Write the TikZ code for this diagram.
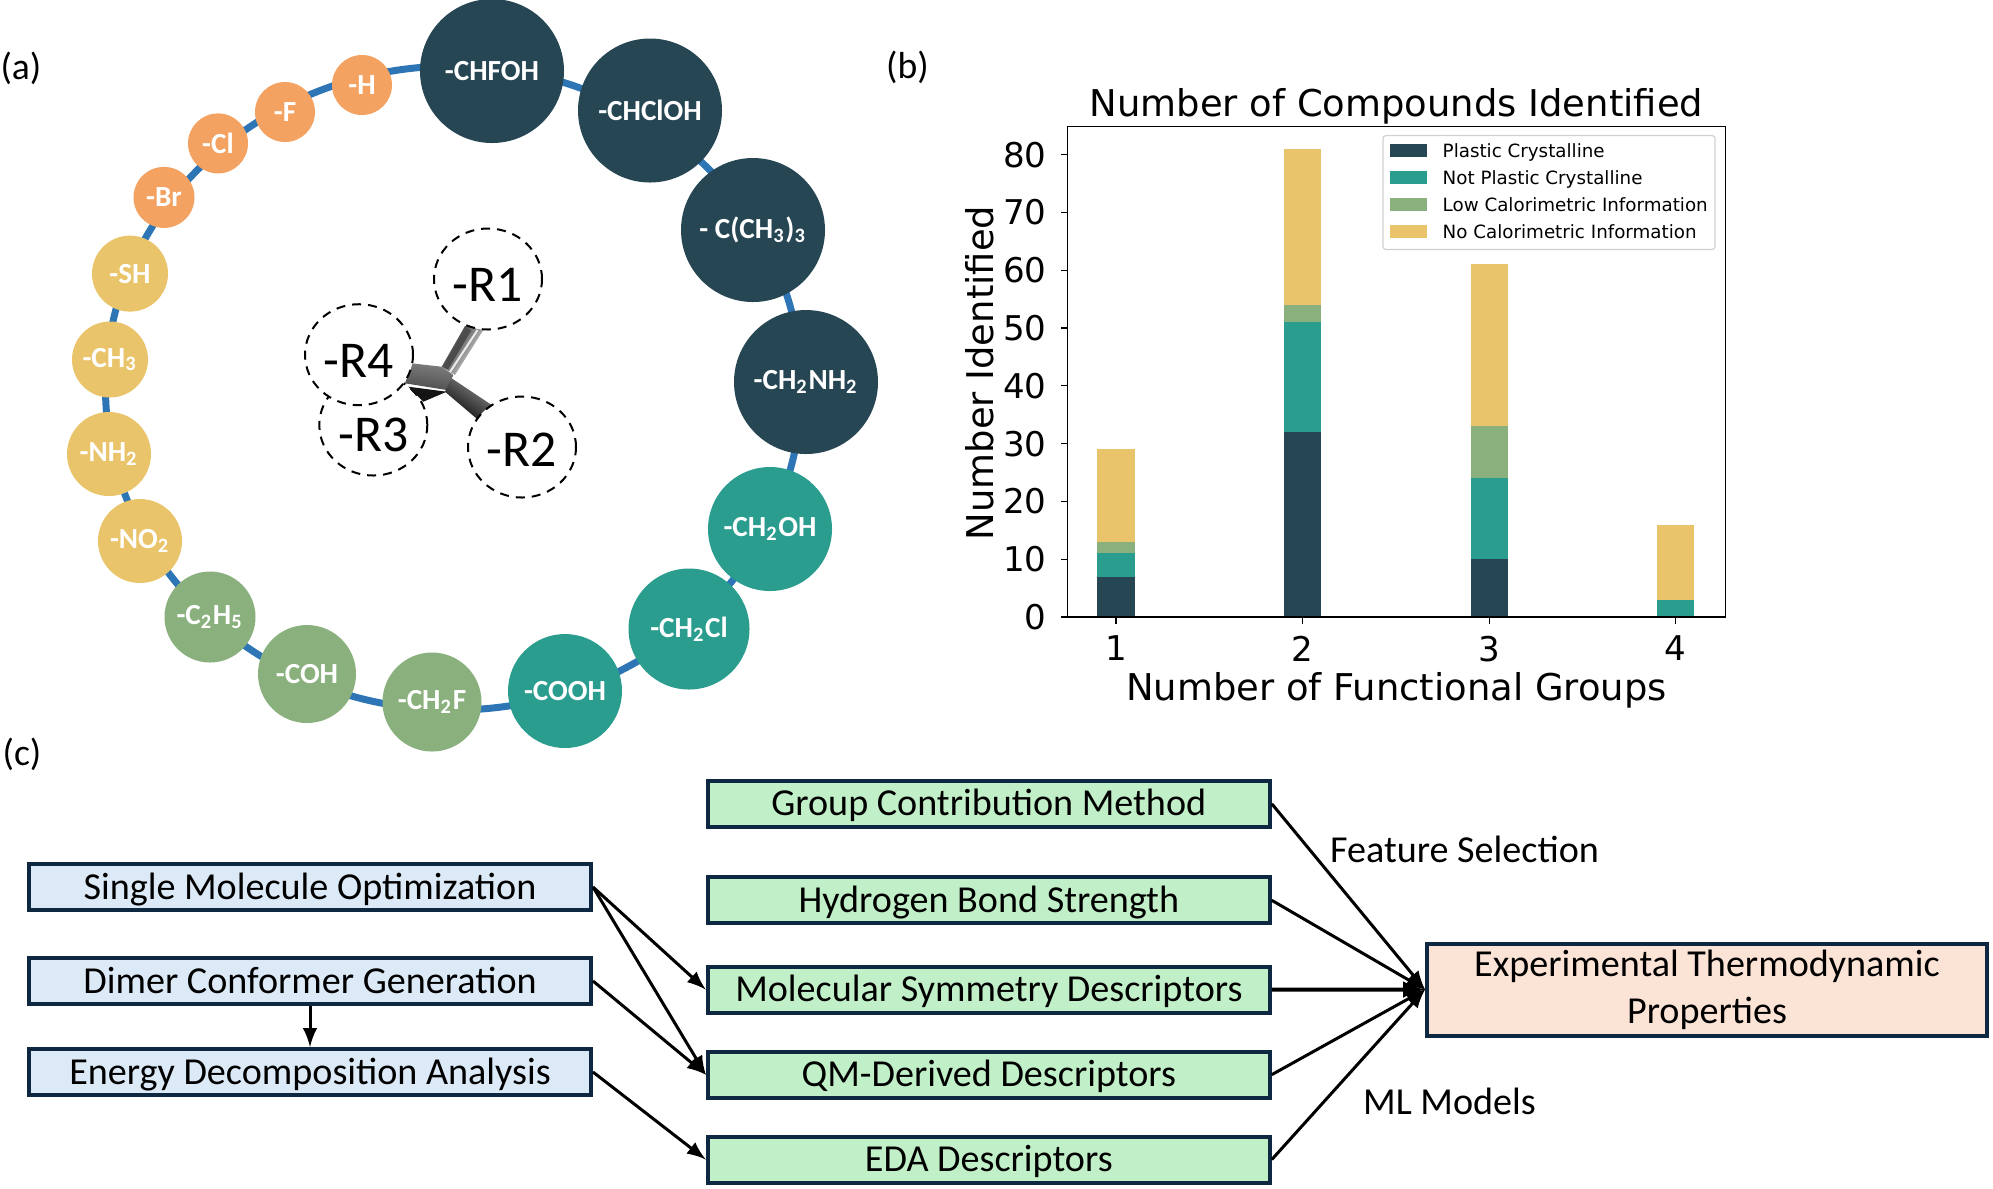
\documentclass[tikz,border=0pt]{standalone}
\usepackage{fontspec}
\setmainfont{Carlito}
\newfontfamily\plotfont{DejaVu Sans}
\usetikzlibrary{positioning,shapes.geometric,arrows}

\definecolor{pcdark}{HTML}{264653}
\definecolor{npcteal}{HTML}{2A9D8F}
\definecolor{lowgreen}{HTML}{8AB17D}
\definecolor{noyellow}{HTML}{E9C46A}
\definecolor{hotorange}{HTML}{F4A261}
\definecolor{ringblue}{HTML}{2E75B6}
\definecolor{boxline}{HTML}{0E2841}
\definecolor{calcblue}{HTML}{DCEAF7}
\definecolor{descgreen}{HTML}{C1F0C8}
\definecolor{targetpink}{HTML}{FBE3D6}

\tikzset{
  group/.style={circle,inner sep=0pt,text=white,font=\bfseries\fontsize{8.3}{10}\selectfont},
  rsite/.style={ellipse,draw,fill=white,line width=0.02cm,dash pattern=on 0.09cm off 0.07cm,minimum width=1.08cm,minimum height=1.01cm,inner sep=0pt,text height=0.45cm,text depth=0cm,font=\fontsize{14.7}{16}\selectfont},
  flowbox/.style={rectangle,draw=boxline,line width=0.04cm,inner sep=0pt,minimum height=0.46cm,minimum width=5.62cm,align=center,text height=0.27cm,text depth=0.03cm,font=\fontsize{10.85}{13.4}\selectfont},
  link/.style={->,>=latex,black,line width=0.03cm},
  panel/.style={font=\fontsize{10.7}{12}\selectfont},
  plottext/.style={font=\plotfont\fontsize{10.5}{13}\selectfont},
  plottick/.style={font=\plotfont\fontsize{9.7}{12}\selectfont},
  legendtext/.style={anchor=west,inner sep=0pt,text height=0.14cm,text depth=0.04cm,font=\plotfont\fontsize{5.2}{6}\selectfont}
}

\begin{document}
\begin{tikzpicture}
\useasboundingbox (0,0) rectangle (19.93,-11.88);

% Panel a: ring of groups
\node[ellipse,draw=ringblue,line width=0.07cm,minimum width=6.96cm,minimum height=6.44cm,inner sep=0pt] (ring) at (4.535,-3.88) {};

\path
(0,0)
+(4.92,-0.71)   node[group,fill=pcdark,minimum size=1.44cm]   (chfoh) {-CHFOH}
+(6.50,-1.105)  node[group,fill=pcdark,minimum size=1.44cm]   (chcloh) {-CHClOH}
+(7.53,-2.30)   node[group,fill=pcdark,minimum size=1.44cm]   (cch3) {- C(CH\textsubscript{3})\textsubscript{3}}
+(8.06,-3.82)   node[group,fill=pcdark,minimum size=1.44cm]   (chnh) {-CH\textsubscript{2}NH\textsubscript{2}}
+(7.70,-5.29)   node[group,fill=npcteal,minimum size=1.24cm]  (choh) {-CH\textsubscript{2}OH}
+(6.89,-6.29)   node[group,fill=npcteal,minimum size=1.21cm]  (chcl) {-CH\textsubscript{2}Cl}
+(5.65,-6.91)   node[group,fill=npcteal,minimum size=1.14cm]  (cooh) {-COOH}
+(4.32,-7.02)   node[group,fill=lowgreen,minimum size=0.99cm] (chf) {-CH\textsubscript{2}F}
+(3.07,-6.74)   node[group,fill=lowgreen,minimum size=0.98cm] (coh) {-COH}
+(2.10,-6.17)   node[group,fill=lowgreen,minimum size=0.91cm] (cth) {-C\textsubscript{2}H\textsubscript{5}}
+(1.40,-5.41)   node[group,fill=noyellow,minimum size=0.84cm] (notwo) {-NO\textsubscript{2}}
+(1.09,-4.54)   node[group,fill=noyellow,minimum size=0.84cm] (nhtwo) {-NH\textsubscript{2}}
+(1.10,-3.595)  node[group,fill=noyellow,minimum size=0.76cm] (chthree) {-CH\textsubscript{3}}
+(1.30,-2.736)  node[group,fill=noyellow,minimum size=0.76cm] (sh) {-SH}
+(1.64,-1.974)  node[group,fill=hotorange,minimum size=0.61cm] (br) {-Br}
+(2.18,-1.434)  node[group,fill=hotorange,minimum size=0.60cm] (cl) {-Cl}
+(2.85,-1.12)   node[group,fill=hotorange,minimum size=0.60cm] (fl) {-F}
+(3.62,-0.85)   node[group,fill=hotorange,minimum size=0.60cm] (hy) {-H}
;

% Molecule in the middle
\node[rsite,text height=0.52cm] (r3) at (3.733,-4.25) {-R3};
\fill[black!92] (4.083,-3.867) -- (4.233,-4.017) -- (4.467,-3.917) -- cycle;
\shade[top color=black!92,middle color=black!60,bottom color=white,shading angle=58] (4.65,-3.26) -- (4.833,-3.30) -- (4.55,-3.75) -- (4.417,-3.667) -- cycle;
\draw[black!70,line width=0.06cm] (4.685,-3.29) -- (4.455,-3.68);
\draw[black!8,line width=0.02cm] (4.775,-3.30) -- (4.50,-3.72);
\shade[top color=black!50,middle color=black!42,bottom color=black!70,shading angle=-8] (4.117,-3.633) -- (4.05,-3.833) -- (4.467,-3.90) -- (4.533,-3.75) -- (4.417,-3.667) -- cycle;
\shade[top color=black!45,bottom color=black!98,shading angle=-34] (4.517,-3.783) -- (4.917,-4.05) -- (4.783,-4.20) -- (4.45,-3.917) -- cycle;
\node[rsite] (r4) at (3.59,-3.547) {-R4};
\node[rsite] (r1) at (4.88,-2.79) {-R1};
\node[rsite,text height=0.393cm] (r2) at (5.22,-4.47) {-R2};

\node[panel] (labela) at (0.21,-0.68) {(a)};
\node[panel] (labelb) at (9.075,-0.675) {(b)};
\node[panel] (labelc) at (0.22,-7.54) {(c)};

% Panel b: stacked bars
\begin{scope}[shift={(9.294,-6.17)},x=1.866cm,y=0.0578cm]
\fill[pcdark]    (0.9,0) rectangle (1.1,7);
\fill[npcteal]   (0.9,7) rectangle (1.1,11);
\fill[lowgreen]  (0.9,11) rectangle (1.1,13);
\fill[noyellow]  (0.9,13) rectangle (1.1,29);
\fill[pcdark]    (1.9,0) rectangle (2.1,32);
\fill[npcteal]   (1.9,32) rectangle (2.1,51);
\fill[lowgreen]  (1.9,51) rectangle (2.1,54);
\fill[noyellow]  (1.9,54) rectangle (2.1,81);
\fill[pcdark]    (2.9,0) rectangle (3.1,10);
\fill[npcteal]   (2.9,10) rectangle (3.1,24);
\fill[lowgreen]  (2.9,24) rectangle (3.1,33);
\fill[noyellow]  (2.9,33) rectangle (3.1,61);
\fill[npcteal]   (3.9,0) rectangle (4.1,3);
\fill[noyellow]  (3.9,3) rectangle (4.1,16);

\draw[line width=0.012cm] (0.741,0) rectangle (4.264,84.8);

\draw[line width=0.012cm] (1,0) -- ++(0,-1.16) node[plottick,below=0cm] (xone) {1};
\draw[line width=0.012cm] (2,0) -- ++(0,-1.16) node[plottick,below=0cm] (xtwo) {2};
\draw[line width=0.012cm] (3,0) -- ++(0,-1.16) node[plottick,below=0cm] (xthree) {3};
\draw[line width=0.012cm] (4,0) -- ++(0,-1.16) node[plottick,below=0cm] (xfour) {4};

\draw[line width=0.012cm] (0.741,0) -- ++(-0.036,0) node[plottick,left=0.02cm] (yzero) {0};
\draw[line width=0.012cm] (0.741,10) -- ++(-0.036,0) node[plottick,left=0.02cm] (yten) {10};
\draw[line width=0.012cm] (0.741,20) -- ++(-0.036,0) node[plottick,left=0.02cm] (ytwenty) {20};
\draw[line width=0.012cm] (0.741,30) -- ++(-0.036,0) node[plottick,left=0.02cm] (ythirty) {30};
\draw[line width=0.012cm] (0.741,40) -- ++(-0.036,0) node[plottick,left=0.02cm] (yforty) {40};
\draw[line width=0.012cm] (0.741,50) -- ++(-0.036,0) node[plottick,left=0.02cm] (yfifty) {50};
\draw[line width=0.012cm] (0.741,60) -- ++(-0.036,0) node[plottick,left=0.02cm] (ysixty) {60};
\draw[line width=0.012cm] (0.741,70) -- ++(-0.036,0) node[plottick,left=0.02cm] (yseventy) {70};
\draw[line width=0.012cm] (0.741,80) -- ++(-0.036,0) node[plottick,left=0.02cm] (yeighty) {80};
\end{scope}

\node[plottext] (plottitle) at (13.965,-1.06) {Number of Compounds Identified};
\node[plottext] (xlabel) at (13.965,-6.90) {Number of Functional Groups};
\node[plottext,rotate=90] (ylabel) at (9.80,-3.73) {Number Identified};

% legend
\draw[black!18,fill=white,rounded corners=0.03cm,line width=0.012cm] (13.83,-1.355) rectangle (17.15,-2.495);
\fill[pcdark]   (13.90,-1.443) rectangle (14.27,-1.569);
\fill[npcteal]  (13.90,-1.713) rectangle (14.27,-1.839);
\fill[lowgreen] (13.90,-1.983) rectangle (14.27,-2.109);
\fill[noyellow] (13.90,-2.253) rectangle (14.27,-2.379);
\node[legendtext] (legone) at (14.42,-1.528) {Plastic Crystalline};
\node[legendtext] (legtwo) at (14.42,-1.798) {Not Plastic Crystalline};
\node[legendtext] (legthree) at (14.42,-2.068) {Low Calorimetric Information};
\node[legendtext] (legfour) at (14.42,-2.338) {No Calorimetric Information};

% Panel c: workflow
\path
(0,0)
+(3.10,-8.87)   node[flowbox,fill=calcblue]  (single) {Single Molecule Optimization}
+(3.10,-9.81)   node[flowbox,fill=calcblue]  (dimer) {Dimer Conformer Generation}
+(3.10,-10.72)  node[flowbox,fill=calcblue]  (energy) {Energy Decomposition Analysis}
+(9.888,-8.038) node[flowbox,fill=descgreen] (gcm) {Group Contribution Method}
+(9.888,-9.003) node[flowbox,fill=descgreen] (hbond) {Hydrogen Bond Strength}
+(9.888,-9.896) node[flowbox,fill=descgreen] (symm) {Molecular Symmetry Descriptors}
+(9.888,-10.746) node[flowbox,fill=descgreen] (qm) {QM-Derived Descriptors}
+(9.888,-11.595) node[flowbox,fill=descgreen] (eda) {EDA Descriptors}
+(17.07,-9.895) node[flowbox,fill=targetpink,minimum width=5.60cm,minimum height=0.92cm,text height=,text depth=] (target) {Experimental Thermodynamic\\Properties}
+(14.645,-8.49) node[font=\fontsize{10.85}{13}\selectfont] (featsel) {Feature Selection}
+(14.495,-11.017) node[font=\fontsize{10.85}{13}\selectfont] (mlmodels) {ML Models}
;

\draw[link] (single.east)--(symm.west);
\draw[link] (single.east)--(qm.west);
\draw[link] (dimer.east)--(qm.west);
\draw[link] (dimer.south)--(energy.north);
\draw[link] (energy.east)--(eda.west);

\draw[link] (gcm.east)--(target.west);
\draw[link] (hbond.east)--(target.west);
\draw[link,line width=0.04cm] (symm.east)--(target.west);
\draw[link] (qm.east)--(target.west);
\draw[link] (eda.east)--(target.west);

\end{tikzpicture}
\end{document}
